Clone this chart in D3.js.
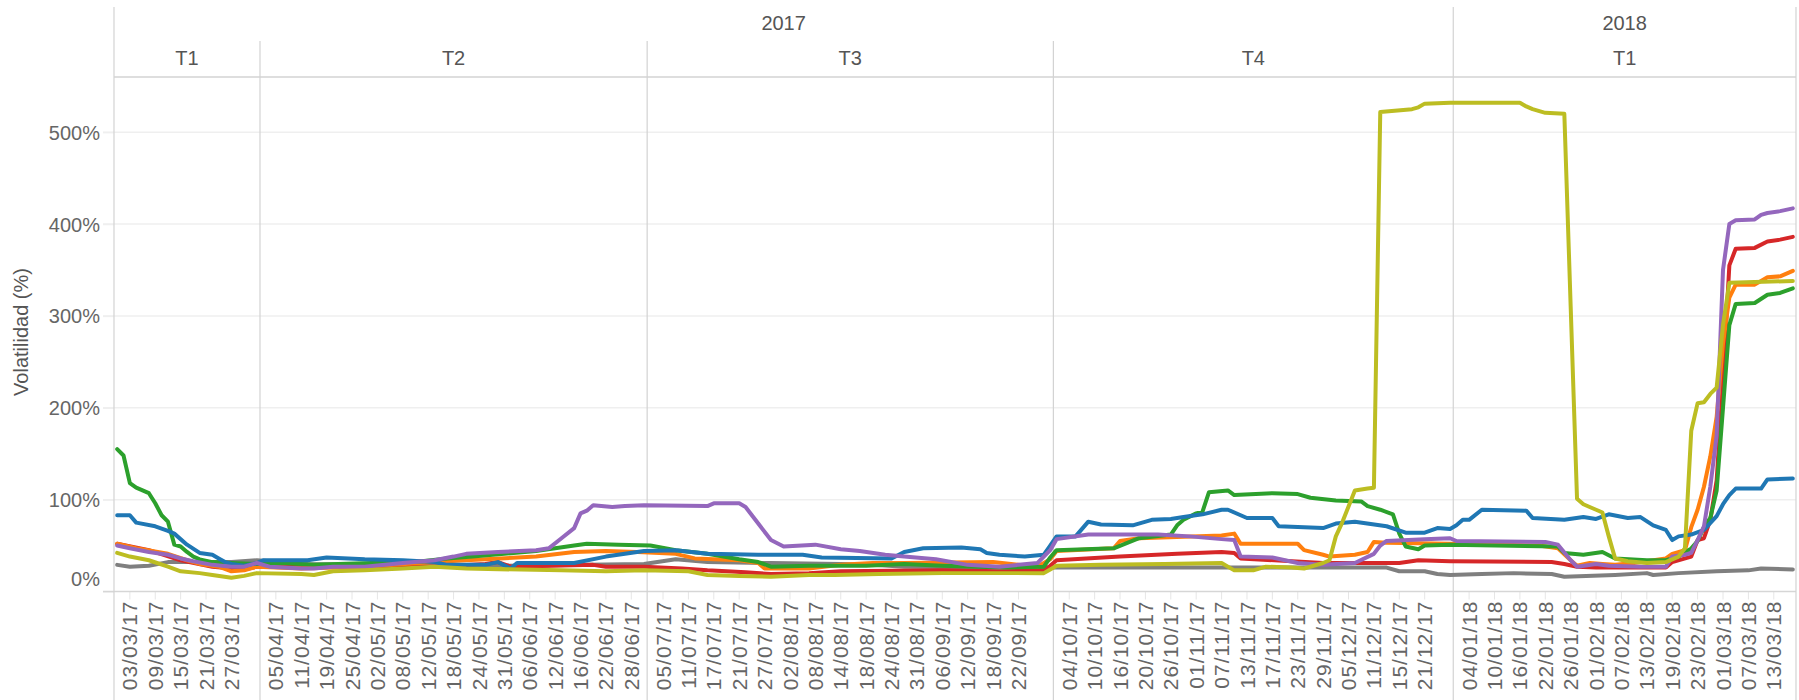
<!DOCTYPE html>
<html><head><meta charset="utf-8">
<script src="https://cdn.jsdelivr.net/npm/d3@7"></script>
<style>
html,body{margin:0;padding:0;background:#fff;}
svg{display:block;font-family:"Liberation Sans",Arial,sans-serif;}
</style></head><body>
<svg id="chart" width="1799" height="700"></svg>
<script>
// ---------- categories: trading days ----------
const dates = [
"01/03/17","02/03/17","03/03/17","06/03/17","07/03/17","08/03/17","09/03/17","10/03/17","13/03/17","14/03/17","15/03/17","16/03/17","17/03/17","20/03/17","21/03/17","22/03/17","23/03/17","24/03/17","27/03/17","28/03/17","29/03/17","30/03/17","31/03/17",
"03/04/17","04/04/17","05/04/17","06/04/17","07/04/17","10/04/17","11/04/17","12/04/17","13/04/17","18/04/17","19/04/17","20/04/17","21/04/17","24/04/17","25/04/17","26/04/17","27/04/17","28/04/17",
"02/05/17","03/05/17","04/05/17","05/05/17","08/05/17","09/05/17","10/05/17","11/05/17","12/05/17","15/05/17","16/05/17","17/05/17","18/05/17","19/05/17","22/05/17","23/05/17","24/05/17","25/05/17","26/05/17","30/05/17","31/05/17",
"01/06/17","02/06/17","05/06/17","06/06/17","07/06/17","08/06/17","09/06/17","12/06/17","13/06/17","14/06/17","15/06/17","16/06/17","19/06/17","20/06/17","21/06/17","22/06/17","23/06/17","26/06/17","27/06/17","28/06/17","29/06/17","30/06/17",
"03/07/17","04/07/17","05/07/17","06/07/17","07/07/17","10/07/17","11/07/17","12/07/17","13/07/17","14/07/17","17/07/17","18/07/17","19/07/17","20/07/17","21/07/17","24/07/17","25/07/17","26/07/17","27/07/17","28/07/17","31/07/17",
"01/08/17","02/08/17","03/08/17","04/08/17","07/08/17","08/08/17","09/08/17","10/08/17","11/08/17","14/08/17","15/08/17","16/08/17","17/08/17","18/08/17","21/08/17","22/08/17","23/08/17","24/08/17","25/08/17","29/08/17","30/08/17","31/08/17",
"01/09/17","04/09/17","05/09/17","06/09/17","07/09/17","08/09/17","11/09/17","12/09/17","13/09/17","14/09/17","15/09/17","18/09/17","19/09/17","20/09/17","21/09/17","22/09/17","25/09/17","26/09/17","27/09/17","28/09/17","29/09/17",
"02/10/17","03/10/17","04/10/17","05/10/17","06/10/17","09/10/17","10/10/17","11/10/17","12/10/17","13/10/17","16/10/17","17/10/17","18/10/17","19/10/17","20/10/17","23/10/17","24/10/17","25/10/17","26/10/17","27/10/17","30/10/17","31/10/17",
"01/11/17","02/11/17","03/11/17","06/11/17","07/11/17","08/11/17","09/11/17","10/11/17","13/11/17","14/11/17","15/11/17","16/11/17","17/11/17","20/11/17","21/11/17","22/11/17","23/11/17","24/11/17","27/11/17","28/11/17","29/11/17","30/11/17",
"01/12/17","04/12/17","05/12/17","06/12/17","07/12/17","08/12/17","11/12/17","12/12/17","13/12/17","14/12/17","15/12/17","18/12/17","19/12/17","20/12/17","21/12/17","22/12/17","27/12/17","28/12/17","29/12/17",
"02/01/18","03/01/18","04/01/18","05/01/18","08/01/18","09/01/18","10/01/18","11/01/18","12/01/18","15/01/18","16/01/18","17/01/18","18/01/18","19/01/18","22/01/18","23/01/18","24/01/18","25/01/18","26/01/18","29/01/18","30/01/18","31/01/18",
"01/02/18","02/02/18","05/02/18","06/02/18","07/02/18","08/02/18","09/02/18","12/02/18","13/02/18","14/02/18","15/02/18","16/02/18","19/02/18","20/02/18","21/02/18","22/02/18","23/02/18","26/02/18","27/02/18","28/02/18",
"01/03/18","02/03/18","05/03/18","06/03/18","07/03/18","08/03/18","09/03/18","12/03/18","13/03/18","14/03/18","15/03/18","16/03/18"
];

// ---------- tick labels ----------
const xTickLabels = [
"03/03/17","09/03/17","15/03/17","21/03/17","27/03/17",
"05/04/17","11/04/17","19/04/17","25/04/17","02/05/17","08/05/17","12/05/17","18/05/17","24/05/17","31/05/17","06/06/17","12/06/17","16/06/17","22/06/17","28/06/17",
"05/07/17","11/07/17","17/07/17","21/07/17","27/07/17","02/08/17","08/08/17","14/08/17","18/08/17","24/08/17","31/08/17","06/09/17","12/09/17","18/09/17","22/09/17",
"04/10/17","10/10/17","16/10/17","20/10/17","26/10/17","01/11/17","07/11/17","13/11/17","17/11/17","23/11/17","29/11/17","05/12/17","11/12/17","15/12/17","21/12/17",
"04/01/18","10/01/18","16/01/18","22/01/18","26/01/18","01/02/18","07/02/18","13/02/18","19/02/18","23/02/18","01/03/18","07/03/18","13/03/18"
];
const yTicks = [0, 100, 200, 300, 400, 500];
const yTitle = "Volatilidad (%)";

// ---------- header ----------
const yearNames  = ["2017", "2018"];
const yearFirst  = ["01/03/17", "02/01/18"];
const yearLast   = ["29/12/17", "16/03/18"];
const quarterNames = ["T1", "T2", "T3", "T4", "T1"];
const quarterFirst = ["01/03/17", "03/04/17", "03/07/17", "02/10/17", "02/01/18"];
const quarterLast  = ["31/03/17", "30/06/17", "29/09/17", "29/12/17", "16/03/18"];

// ---------- series (date, volatility %) ----------
const serieGris = [
["01/03/17",29],["03/03/17",27],["08/03/17",28],["13/03/17",32],["27/03/17",32],["31/03/17",34],["12/04/17",30],["28/04/17",29],["30/05/17",28],["30/06/17",30],
["07/07/17",35],["14/07/17",32],["28/07/17",31],["14/08/17",30],["21/08/17",29],["29/08/17",27],["29/09/17",26],["13/12/17",26],["15/12/17",22],["21/12/17",22],
["27/12/17",19],["29/12/17",18],["08/01/18",19],["15/01/18",20],["23/01/18",19],["25/01/18",16],["06/02/18",18],["13/02/18",20],["14/02/18",18],["20/02/18",20],
["28/02/18",22],["07/03/18",23],["09/03/18",25],["16/03/18",24]
];
const serieRoja = [
["01/03/17",52],["08/03/17",45],["15/03/17",34],["22/03/17",27],["29/03/17",24],["31/03/17",27],["12/04/17",27],["15/05/17",27],["25/05/17",30],["30/05/17",32],
["01/06/17",27],["20/06/17",29],["22/06/17",27],["30/06/17",27],["10/07/17",25],["14/07/17",23],["24/07/17",21],["28/07/17",19],["07/08/17",20],["14/08/17",22],
["06/09/17",23],["19/09/17",22],["28/09/17",23],["29/09/17",28],["02/10/17",34],["16/10/17",38],["27/10/17",41],["07/11/17",43],["09/11/17",42],["10/11/17",36],
["29/11/17",31],["15/12/17",31],["20/12/17",34],["29/12/17",33],["23/01/18",32],["25/01/18",30],["29/01/18",27],["01/02/18",26],["16/02/18",26],["19/02/18",32],
["22/02/18",38],["23/02/18",56],["26/02/18",58],["27/02/18",78],["28/02/18",121],["01/03/18",230],["02/03/18",355],["05/03/18",373],["08/03/18",374],["12/03/18",381],
["14/03/18",383],["16/03/18",386]
];
const serieNaranja = [
["01/03/17",52],["06/03/17",47],["13/03/17",41],["16/03/17",34],["20/03/17",30],["23/03/17",27],["27/03/17",22],["29/03/17",23],["31/03/17",27],["11/04/17",25],
["27/04/17",27],["15/05/17",32],["22/05/17",34],["07/06/17",38],["15/06/17",43],["22/06/17",44],["29/06/17",43],["07/07/17",41],["12/07/17",36],["21/07/17",34],
["26/07/17",31],["27/07/17",25],["07/08/17",25],["14/08/17",29],["21/08/17",31],["29/08/17",31],["18/09/17",32],["27/09/17",27],["29/09/17",35],["02/10/17",44],
["13/10/17",47],["16/10/17",55],["19/10/17",58],["07/11/17",61],["09/11/17",63],["10/11/17",52],["23/11/17",52],["24/11/17",45],["29/11/17",40],["30/11/17",38],
["06/12/17",40],["08/12/17",43],["11/12/17",54],["13/12/17",53],["29/12/17",52],["19/01/18",50],["24/01/18",47],["26/01/18",34],["29/01/18",28],["31/01/18",31],
["02/02/18",30],["06/02/18",29],["09/02/18",31],["16/02/18",36],["19/02/18",41],["21/02/18",45],["22/02/18",70],["23/02/18",89],["26/02/18",114],["27/02/18",147],
["28/02/18",190],["01/03/18",270],["02/03/18",320],["05/03/18",334],["08/03/18",334],["12/03/18",342],["14/03/18",343],["16/03/18",349]
];
const serieVerde = [
["01/03/17",155],["02/03/17",148],["03/03/17",118],["06/03/17",113],["07/03/17",110],["08/03/17",107],["09/03/17",96],["10/03/17",83],["13/03/17",76],["14/03/17",51],
["15/03/17",49],["16/03/17",43],["17/03/17",38],["20/03/17",35],["22/03/17",32],["27/03/17",31],["31/03/17",30],["06/04/17",31],["13/04/17",29],["28/04/17",31],
["11/05/17",33],["17/05/17",36],["23/05/17",38],["31/05/17",41],["07/06/17",44],["12/06/17",47],["15/06/17",50],["19/06/17",52],["26/06/17",51],["03/07/17",50],
["07/07/17",45],["14/07/17",41],["21/07/17",35],["26/07/17",32],["28/07/17",27],["07/08/17",28],["18/08/17",28],["29/08/17",30],["06/09/17",28],["20/09/17",26],
["28/09/17",27],["29/09/17",37],["02/10/17",45],["13/10/17",47],["19/10/17",58],["26/10/17",62],["27/10/17",72],["30/10/17",78],["01/11/17",85],["02/11/17",87],
["03/11/17",108],["08/11/17",110],["09/11/17",105],["17/11/17",107],["23/11/17",106],["27/11/17",102],["01/12/17",99],["07/12/17",98],["08/12/17",93],["12/12/17",89],
["14/12/17",84],["15/12/17",63],["18/12/17",49],["20/12/17",46],["21/12/17",50],["29/12/17",51],["24/01/18",49],["25/01/18",42],["30/01/18",40],["02/02/18",43],
["06/02/18",36],["13/02/18",34],["16/02/18",34],["20/02/18",38],["22/02/18",47],["23/02/18",55],["26/02/18",70],["27/02/18",80],["28/02/18",110],["01/03/18",200],
["02/03/18",290],["05/03/18",313],["08/03/18",314],["12/03/18",323],["14/03/18",325],["16/03/18",330]
];
const serieAzul = [
["01/03/17",83],["03/03/17",83],["06/03/17",75],["09/03/17",71],["13/03/17",66],["14/03/17",63],["16/03/17",51],["20/03/17",42],["22/03/17",40],["23/03/17",36],
["24/03/17",32],["27/03/17",30],["29/03/17",28],["31/03/17",31],["03/04/17",34],["12/04/17",34],["19/04/17",37],["27/04/17",35],["08/05/17",34],["15/05/17",32],
["17/05/17",29],["25/05/17",29],["30/05/17",32],["01/06/17",25],["02/06/17",31],["15/06/17",31],["22/06/17",38],["30/06/17",44],["07/07/17",45],["14/07/17",41],
["26/07/17",40],["04/08/17",40],["09/08/17",37],["24/08/17",36],["29/08/17",43],["01/09/17",47],["11/09/17",48],["14/09/17",46],["15/09/17",42],["19/09/17",40],
["25/09/17",38],["28/09/17",40],["29/09/17",50],["02/10/17",60],["05/10/17",60],["09/10/17",76],["11/10/17",73],["18/10/17",72],["23/10/17",78],["26/10/17",79],
["30/10/17",81],["02/11/17",84],["07/11/17",89],["08/11/17",89],["13/11/17",80],["17/11/17",80],["20/11/17",71],["29/11/17",69],["01/12/17",74],["06/12/17",76],
["13/12/17",71],["18/12/17",64],["21/12/17",64],["27/12/17",69],["29/12/17",68],["02/01/18",72],["03/01/18",78],["04/01/18",78],["08/01/18",89],["17/01/18",88],
["18/01/18",80],["25/01/18",78],["30/01/18",81],["01/02/18",79],["05/02/18",84],["08/02/18",80],["12/02/18",81],["14/02/18",72],["16/02/18",67],["19/02/18",56],
["20/02/18",60],["22/02/18",62],["26/02/18",67],["28/02/18",82],["01/03/18",95],["02/03/18",105],["05/03/18",112],["09/03/18",112],["12/03/18",122],["16/03/18",123]
];
const serieMorada = [
["01/03/17",50],["03/03/17",47],["08/03/17",43],["13/03/17",40],["15/03/17",36],["17/03/17",33],["22/03/17",29],["27/03/17",27],["29/03/17",27],["31/03/17",31],
["04/04/17",27],["11/04/17",25],["13/04/17",25],["20/04/17",27],["27/04/17",27],["08/05/17",31],["15/05/17",34],["18/05/17",38],["22/05/17",41],["30/05/17",43],
["07/06/17",45],["09/06/17",47],["13/06/17",58],["15/06/17",69],["16/06/17",85],["19/06/17",88],["20/06/17",94],["23/06/17",92],["27/06/17",93],["30/06/17",94],
["14/07/17",93],["17/07/17",96],["21/07/17",96],["24/07/17",92],["26/07/17",74],["28/07/17",56],["01/08/17",49],["08/08/17",51],["14/08/17",46],["17/08/17",44],
["23/08/17",40],["29/08/17",38],["05/09/17",35],["12/09/17",29],["19/09/17",27],["27/09/17",31],["29/09/17",45],["02/10/17",57],["09/10/17",62],["24/10/17",62],
["31/10/17",60],["07/11/17",57],["09/11/17",56],["10/11/17",38],["17/11/17",37],["23/11/17",31],["29/11/17",29],["06/12/17",31],["11/12/17",41],["12/12/17",50],
["13/12/17",55],["21/12/17",57],["29/12/17",58],["02/01/18",55],["22/01/18",54],["24/01/18",51],["26/01/18",34],["29/01/18",27],["01/02/18",30],["05/02/18",28],
["12/02/18",27],["16/02/18",27],["19/02/18",38],["21/02/18",40],["22/02/18",42],["23/02/18",56],["26/02/18",71],["27/02/18",114],["28/02/18",170],["01/03/18",350],
["02/03/18",400],["05/03/18",404],["08/03/18",405],["09/03/18",410],["12/03/18",412],["14/03/18",414],["16/03/18",417]
];
const serieOliva = [
["01/03/17",42],["03/03/17",38],["08/03/17",34],["13/03/17",27],["15/03/17",22],["20/03/17",20],["22/03/17",18],["27/03/17",15],["29/03/17",17],["31/03/17",20],
["11/04/17",19],["13/04/17",18],["20/04/17",22],["27/04/17",23],["08/05/17",25],["15/05/17",27],["22/05/17",25],["13/06/17",23],["22/06/17",22],["30/06/17",23],
["11/07/17",22],["14/07/17",18],["21/07/17",17],["28/07/17",16],["07/08/17",18],["11/08/17",18],["22/08/17",19],["06/09/17",20],["28/09/17",20],["29/09/17",24],
["02/10/17",28],["11/10/17",29],["25/10/17",30],["07/11/17",31],["09/11/17",23],["14/11/17",23],["16/11/17",27],["22/11/17",26],["24/11/17",25],["29/11/17",31],
["30/11/17",34],["01/12/17",60],["04/12/17",75],["06/12/17",110],["08/12/17",112],["11/12/17",113],["12/12/17",522],["19/12/17",525],["20/12/17",527],["21/12/17",531],
["29/12/17",532],["16/01/18",532],["17/01/18",528],["18/01/18",525],["22/01/18",521],["25/01/18",520],["26/01/18",310],["29/01/18",101],["30/01/18",95],["01/02/18",89],
["02/02/18",86],["05/02/18",60],["06/02/18",36],["08/02/18",33],["13/02/18",31],["16/02/18",32],["20/02/18",38],["21/02/18",47],["22/02/18",175],["23/02/18",205],
["26/02/18",206],["27/02/18",215],["28/02/18",222],["01/03/18",290],["02/03/18",336],["16/03/18",338]
];

const seriesOrder  = [serieGris, serieRoja, serieNaranja, serieVerde, serieAzul, serieMorada, serieOliva];
const seriesColors = ["#7f7f7f", "#d62728", "#ff7f0e", "#2ca02c", "#1f77b4", "#9467bd", "#bcbd22"];

// ---------- layout ----------
const pLeft = 114, pRight = 1796, pTop = 77, pBottom = 591.5;
const svg = d3.select("#chart");

const x = d3.scaleBand().domain(dates).range([pLeft, pRight]).padding(0);
const cx = d => x(d) + x.bandwidth() / 2;
const y = d3.scaleLinear().domain([0, 560]).range([pBottom, pTop]);

const lineCol = "#d3d3d3";

// gridlines
svg.append("g").selectAll("line").data(yTicks.filter(t => t > 0)).join("line")
  .attr("x1", 103).attr("x2", pRight).attr("y1", d => y(d)).attr("y2", d => y(d))
  .attr("stroke", "#efefef").attr("stroke-width", 1.5);

// y axis
const yAxis = svg.append("g").attr("transform", `translate(${pLeft},0)`)
  .call(d3.axisLeft(y).tickValues(yTicks).tickSize(11).tickPadding(3).tickFormat(d => d + "%"));
yAxis.select(".domain").remove();
yAxis.selectAll(".tick line").attr("stroke", "#efefef").attr("stroke-width", 1.5);
yAxis.selectAll(".tick text").attr("font-size", 20).attr("fill", "#666")
  .attr("font-family", "Liberation Sans, Arial, sans-serif")
  .attr("dy", d => d === 0 ? "-0.3em" : "0.35em");

svg.append("text").attr("transform", `translate(21,332) rotate(-90)`)
  .attr("text-anchor", "middle").attr("dy", "0.35em")
  .attr("font-size", 20).attr("fill", "#555").text(yTitle);

// x axis
const xAxis = svg.append("g").attr("transform", `translate(0,${pBottom})`)
  .call(d3.axisBottom(x).tickValues(xTickLabels).tickSize(8).tickPadding(0));
xAxis.select(".domain").remove();
xAxis.selectAll(".tick line").attr("stroke", "#e6e6e6");
xAxis.selectAll(".tick text")
  .attr("transform", "rotate(-90)").attr("text-anchor", "end")
  .attr("x", -9).attr("y", 0).attr("dy", "0.36em")
  .attr("font-size", 21).attr("letter-spacing", "1px").attr("fill", "#666")
  .attr("font-family", "Liberation Sans, Arial, sans-serif");

// baseline
svg.append("line").attr("x1", 103).attr("x2", pRight).attr("y1", y(0)).attr("y2", y(0))
  .attr("stroke", "#d6d6d6").attr("stroke-width", 1.5);

// header lines
const hdr = svg.append("g");
hdr.append("line").attr("x1", pLeft).attr("x2", pRight).attr("y1", pTop).attr("y2", pTop)
  .attr("stroke", lineCol).attr("stroke-width", 1.5);
const yearEdges = [pLeft, ...yearFirst.slice(1).map(d => x(d)), pRight];
hdr.selectAll("line.yr").data(yearEdges).join("line").attr("class", "yr")
  .attr("x1", d => d).attr("x2", d => d).attr("y1", 7).attr("y2", 700)
  .attr("stroke", lineCol).attr("stroke-width", 1.2);
const qEdges = quarterFirst.map(d => x(d)).filter(v => !yearEdges.some(e => Math.abs(e - v) < 1));
hdr.selectAll("line.q").data(qEdges).join("line").attr("class", "q")
  .attr("x1", d => d).attr("x2", d => d).attr("y1", 41).attr("y2", 700)
  .attr("stroke", lineCol).attr("stroke-width", 1.2);

hdr.selectAll("text.yr").data(yearNames).join("text").attr("class", "yr")
  .attr("x", (d, i) => (x(yearFirst[i]) + x(yearLast[i]) + x.bandwidth()) / 2)
  .attr("y", 23).attr("dy", "0.35em").attr("text-anchor", "middle")
  .attr("font-size", 20).attr("fill", "#555").text(d => d);
hdr.selectAll("text.q").data(quarterNames).join("text").attr("class", "q")
  .attr("x", (d, i) => (x(quarterFirst[i]) + x(quarterLast[i]) + x.bandwidth()) / 2)
  .attr("y", 58).attr("dy", "0.35em").attr("text-anchor", "middle")
  .attr("font-size", 20).attr("fill", "#555").text(d => d);

// lines
const line = d3.line().x(d => cx(d[0])).y(d => y(d[1]));
svg.append("g").selectAll("path").data(seriesOrder).join("path")
  .attr("d", line).attr("fill", "none")
  .attr("stroke", (d, i) => seriesColors[i])
  .attr("stroke-width", 4).attr("stroke-linejoin", "round").attr("stroke-linecap", "round");
</script>
</body></html>
